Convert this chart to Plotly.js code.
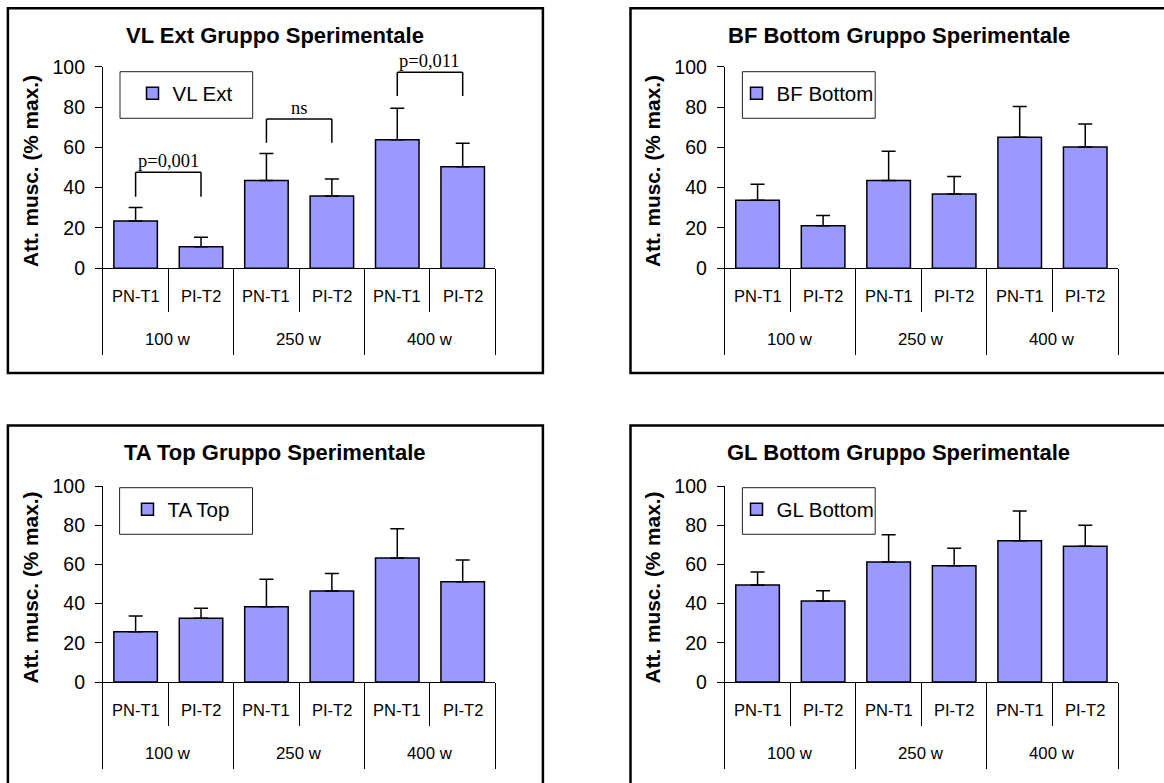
<!DOCTYPE html>
<html><head><meta charset="utf-8">
<script src="https://cdn.plot.ly/plotly-3.0.1.min.js"></script>
<style>html,body{margin:0;padding:0;background:#fff}#chart{width:1164px;height:783px}</style>
</head><body><div id="chart"></div>
<script>
// ---------------- data ----------------
const groups = ["100 w", "250 w", "400 w"];
const subs = ["PN-T1", "PI-T2"];
const yTicks = [0, 20, 40, 60, 80, 100];
const yTitle = "Att. musc. (% max.)";
const panelTitles = ["VL Ext Gruppo Sperimentale", "BF Bottom Gruppo Sperimentale", "TA Top Gruppo Sperimentale", "GL Bottom Gruppo Sperimentale"];
const seriesNames = ["VL Ext", "BF Bottom", "TA Top", "GL Bottom"];
const vlExt = [23.5, 10.7, 43.5, 35.9, 63.8, 50.4];
const vlExtErr = [6.6, 4.7, 13.5, 8.4, 15.6, 11.6];
const bfBottom = [33.8, 21.1, 43.5, 36.9, 65.0, 60.2];
const bfBottomErr = [7.9, 5.1, 14.5, 8.6, 15.2, 11.4];
const taTop = [25.7, 32.5, 38.4, 46.4, 63.3, 51.2];
const taTopErr = [8.0, 5.1, 14.0, 8.9, 14.9, 11.0];
const glBottom = [49.5, 41.3, 61.2, 59.3, 72.1, 69.2];
const glBottomErr = [6.6, 5.2, 13.9, 8.9, 15.2, 10.8];
// significance brackets (first panel)
const bracketPairs = [[0, 1], [2, 3], [4, 5]];
const bracketTop = [47.6, 74.1, 97.2];
const bracketFoot = [35.5, 62.3, 85.5];
const bracketText = ["p=0,001", "ns", "p=0,011"];

// ---------------- layout geometry (pixels) ----------------
const W = 1164, H = 783;
const px = v => v / W;
const py = v => 1 - v / H;
const panels = [
  {plotX: [102.9, 495.4], plotY: [66.7, 268.3], frame: [7.9, 8.3, 542.9, 373], legend: [120, 71.7, 252.7, 118.3], legendSym: 153, titleX: 275.4, titleY: 35.7, yTitleX: 30.4},
  {plotX: [724.8, 1118], plotY: [66.7, 268.3], frame: [630.5, 8.3, 1170, 373], legend: [742.4, 71.7, 875.2, 118.3], legendSym: 757, titleX: 898.6, titleY: 35.7, yTitleX: 652.4},
  {plotX: [102.9, 495.4], plotY: [486, 682], frame: [7.9, 425.5, 542.9, 795], legend: [119.6, 487.7, 252.5, 534.3], legendSym: 148, titleX: 275.4, titleY: 452.3, yTitleX: 30.4},
  {plotX: [724.8, 1118], plotY: [486, 682], frame: [630.5, 425.5, 1170, 795], legend: [742.4, 487.7, 875.2, 534.3], legendSym: 757, titleX: 898.6, titleY: 452.3, yTitleX: 652.4}
];
const values = [vlExt, bfBottom, taTop, glBottom];
const errors = [vlExtErr, bfBottomErr, taTopErr, glBottomErr];

const SANS = "Liberation Sans, Arial, sans-serif";
const SERIF = "Liberation Serif, Times New Roman, serif";
const cats = groups.flatMap(g => subs.map(s => g + " " + s));
const nCat = cats.length;
const rng = [-0.5, nCat - 0.5];
const subBounds = Array.from({length: nCat + 1}, (_, i) => i - 0.5);
const groupBounds = Array.from({length: groups.length + 1}, (_, i) => i * subs.length - 0.5);

const data = [];
const layout = {
  width: W, height: H,
  margin: {l: 0, r: 0, t: 0, b: 0},
  paper_bgcolor: "#fff", plot_bgcolor: "rgba(0,0,0,0)",
  bargap: 0.335,
  showlegend: true,
  shapes: [], annotations: []
};

panels.forEach((p, i) => {
  const n = i + 1;
  const xid = i === 0 ? "x" : "x" + n;
  const yid = i === 0 ? "y" : "y" + n;
  const xkey = i === 0 ? "xaxis" : "xaxis" + n;
  const ykey = i === 0 ? "yaxis" : "yaxis" + n;
  const legKey = i === 0 ? "legend" : "legend" + n;
  const subId = "x" + (5 + i), grpId = "x" + (9 + i);

  data.push({
    type: "bar", x: cats, y: values[i], name: seriesNames[i],
    xaxis: xid, yaxis: yid, legend: legKey,
    marker: {color: "#9999FF", line: {color: "#000", width: 1.5}},
    error_y: {type: "data", symmetric: false, array: errors[i], arrayminus: errors[i].map(() => 0),
              color: "#000", thickness: 1.5, width: 7},
    hoverinfo: "skip"
  });
  data.push({type: "scatter", mode: "markers", x: [], y: [], xaxis: subId, yaxis: yid, showlegend: false, hoverinfo: "skip"});
  data.push({type: "scatter", mode: "markers", x: [], y: [], xaxis: grpId, yaxis: yid, showlegend: false, hoverinfo: "skip"});

  layout[xkey] = {
    type: "category", domain: [px(p.plotX[0]), px(p.plotX[1])], anchor: yid,
    range: rng, showticklabels: false, ticks: "", showgrid: false, zeroline: false,
    showline: true, linecolor: "#000", linewidth: 1, fixedrange: true
  };
  layout["xaxis" + (5 + i)] = {
    overlaying: xid, anchor: yid, type: "linear", range: rng,
    tickmode: "array", tickvals: subBounds, ticks: "outside", ticklen: 43, tickwidth: 1, tickcolor: "#000",
    showticklabels: false, showgrid: false, zeroline: false, showline: false, fixedrange: true
  };
  layout["xaxis" + (9 + i)] = {
    overlaying: xid, anchor: yid, type: "linear", range: rng,
    tickmode: "array", tickvals: groupBounds, ticks: "outside", ticklen: 86, tickwidth: 1, tickcolor: "#000",
    showticklabels: false, showgrid: false, zeroline: false, showline: false, fixedrange: true
  };
  layout[ykey] = {
    domain: [py(p.plotY[1]), py(p.plotY[0])], anchor: xid, range: [0, 100],
    tickmode: "array", tickvals: yTicks, ticks: "outside", ticklen: 7, tickwidth: 1, tickcolor: "#000",
    ticklabelstandoff: 6,
    tickfont: {family: SANS, size: 19.5, color: "#000"},
    showgrid: false, zeroline: false, showline: true, linecolor: "#000", linewidth: 1, fixedrange: true
  };
  layout[legKey] = {
    x: px(p.legendSym - 20.5), xanchor: "left",
    y: py((p.legend[1] + p.legend[3]) / 2 - 1.5), yanchor: "middle",
    bgcolor: "rgba(0,0,0,0)", borderwidth: 0,
    font: {family: SANS, size: 20.5, color: "#000"}
  };

  // frame and legend box
  layout.shapes.push({type: "rect", xref: "paper", yref: "paper",
    x0: px(p.frame[0]), x1: px(p.frame[2]), y0: py(p.frame[3]), y1: py(p.frame[1]),
    line: {color: "#000", width: 2.5}, fillcolor: "rgba(0,0,0,0)", layer: "below"});
  layout.shapes.push({type: "rect", xref: "paper", yref: "paper",
    x0: px(p.legend[0]), x1: px(p.legend[2]), y0: py(p.legend[3]), y1: py(p.legend[1]),
    line: {color: "#222", width: 1}, fillcolor: "rgba(0,0,0,0)", layer: "below"});

  // titles
  layout.annotations.push({xref: "paper", yref: "paper", x: px(p.titleX), y: py(p.titleY),
    xanchor: "center", yanchor: "middle", showarrow: false, text: panelTitles[i],
    font: {family: SANS, size: 22, color: "#000", weight: "bold"}});
  layout.annotations.push({xref: "paper", yref: "paper", x: px(p.yTitleX),
    y: py((p.plotY[0] + p.plotY[1]) / 2 + 3), textangle: -90,
    xanchor: "center", yanchor: "middle", showarrow: false, text: yTitle,
    font: {family: SANS, size: 20.8, color: "#000", weight: "bold"}});

  // category labels
  cats.forEach((c, k) => {
    layout.annotations.push({xref: xid, yref: yid, x: c, y: 0, yshift: -28, showarrow: false,
      xanchor: "center", yanchor: "middle", text: subs[k % subs.length],
      font: {family: SANS, size: 16.5, color: "#000"}});
  });
  groups.forEach((g, k) => {
    layout.annotations.push({xref: xid, yref: yid, x: k * subs.length + (subs.length - 1) / 2, y: 0, yshift: -71,
      showarrow: false, xanchor: "center", yanchor: "middle", text: g,
      font: {family: SANS, size: 16.8, color: "#000"}});
  });

  // significance brackets only on first panel
  if (i === 0) {
    bracketPairs.forEach((pr, k) => {
      const a = cats[pr[0]], b = cats[pr[1]];
      const ln = {color: "#000", width: 1.5};
      layout.shapes.push({type: "line", xref: xid, yref: yid, x0: a, x1: a, y0: bracketFoot[k], y1: bracketTop[k], line: ln});
      layout.shapes.push({type: "line", xref: xid, yref: yid, x0: a, x1: b, y0: bracketTop[k], y1: bracketTop[k], line: ln});
      layout.shapes.push({type: "line", xref: xid, yref: yid, x0: b, x1: b, y0: bracketFoot[k], y1: bracketTop[k], line: ln});
      layout.annotations.push({xref: xid, yref: yid, x: (pr[0] + pr[1]) / 2, y: bracketTop[k], yshift: 11,
        showarrow: false, xanchor: "center", yanchor: "middle", text: bracketText[k],
        font: {family: SERIF, size: 18.5, color: "#000"}});
    });
  }
});

Plotly.newPlot("chart", data, layout, {displayModeBar: false, staticPlot: true});
</script>
</body></html>
